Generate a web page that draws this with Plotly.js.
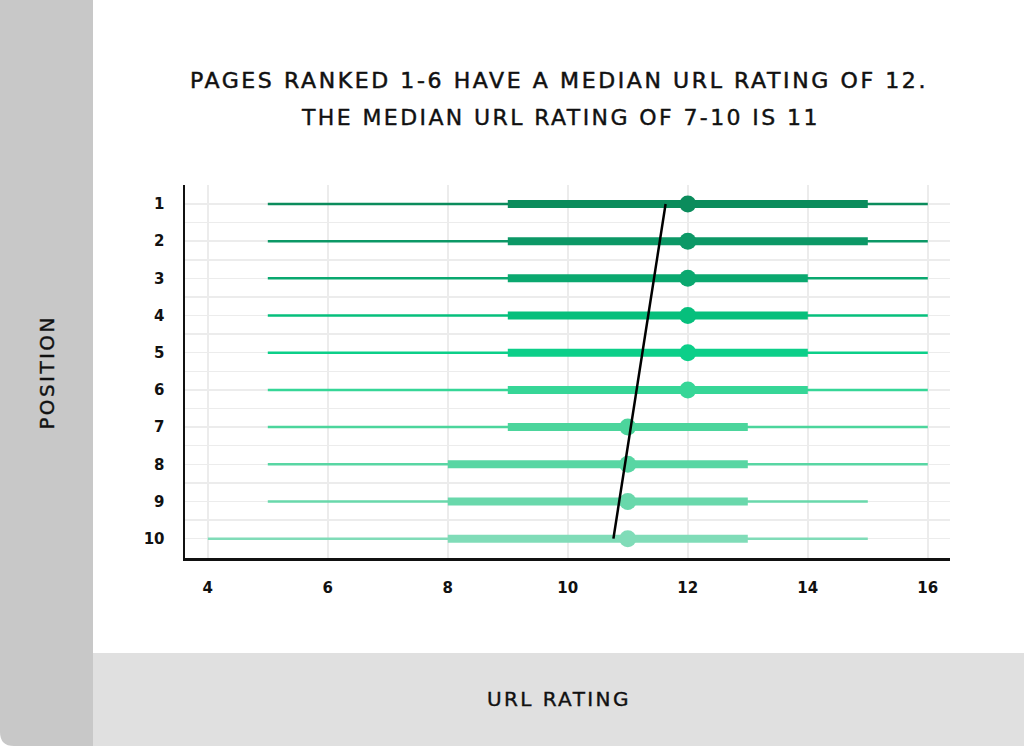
<!DOCTYPE html>
<html>
<head>
<meta charset="utf-8">
<script src="https://cdn.plot.ly/plotly-3.0.1.min.js"></script>
<style>
  body { margin: 0; background: #ffffff; }
  #chart { width: 1024px; height: 746px; }
  /* the source typeface is a wide, medium-weight geometric sans:
     space the headings out and thicken them a little */
  #chart .gtitle { letter-spacing: 2.6px; stroke: #111111; stroke-width: 0.5px; }
  #chart .annotation-text { letter-spacing: 2.4px; stroke: #111111; stroke-width: 0.4px; }
</style>
</head>
<body>
<div id="chart"></div>
<script>
// box summary per ranking position
var positions = [1, 2, 3, 4, 5, 6, 7, 8, 9, 10];
var minVals = [5, 5, 5, 5, 5, 5, 5, 5, 5, 4];
var q1Vals = [9, 9, 9, 9, 9, 9, 9, 8, 8, 8];
var medianVals = [12, 12, 12, 12, 12, 12, 11, 11, 11, 11];
var q3Vals = [15, 15, 14, 14, 14, 14, 13, 13, 13, 13];
var maxVals = [16, 16, 16, 16, 16, 16, 16, 16, 15, 15];

// trend line through the medians
var trendX = [11.63, 10.76];
var trendY = [1, 10];

var xTicks = [4, 6, 8, 10, 12, 14, 16];

var titleLines = ['PAGES RANKED 1-6 HAVE A MEDIAN URL RATING OF 12.',
                  'THE MEDIAN URL RATING OF 7-10 IS 11'];

var rowColors = ['#0b8c5c', '#0c9866', '#0aa86f', '#06bf7c', '#0ccf89',
                 '#36d697', '#4cd59c', '#58d6a3', '#69d8ab', '#80dcb8'];

var FONT = 'DejaVu Sans, sans-serif';

var traces = [];
positions.forEach(function (pos, i) {
    // whisker: min to max
    traces.push({
        x: [minVals[i], maxVals[i]],
        y: [pos, pos],
        mode: 'lines',
        type: 'scatter',
        line: { color: rowColors[i], width: 2.5 },
        hoverinfo: 'skip'
    });
    // box: q1 to q3
    traces.push({
        x: [q1Vals[i], q3Vals[i]],
        y: [pos, pos],
        mode: 'lines',
        type: 'scatter',
        line: { color: rowColors[i], width: 8 },
        hoverinfo: 'skip'
    });
});

// median dots
traces.push({
    x: medianVals,
    y: positions,
    mode: 'markers',
    type: 'scatter',
    marker: { color: rowColors, size: 17, line: { width: 0 } }
});

// trend line
traces.push({
    x: trendX,
    y: trendY,
    mode: 'lines',
    type: 'scatter',
    line: { color: '#000000', width: 2.5 }
});

// plot area: left 185, right 950, top 185, bottom 558 (px)
var W = 1024, H = 746, L = 185, R = 950, T = 185, B = 558;
function px(x) { return (x - L) / (R - L); }
function py(y) { return (B - y) / (B - T); }

var rad = 14;
var leftStrip = 'M ' + px(0) + ',' + py(0) +
    ' L ' + px(93) + ',' + py(0) +
    ' L ' + px(93) + ',' + py(H) +
    ' L ' + px(rad) + ',' + py(H) +
    ' Q ' + px(0) + ',' + py(H) + ' ' + px(0) + ',' + py(H - rad) + ' Z';

var titleFont = { family: FONT, size: 22, color: '#111111' };
var axisTitleFont = { family: FONT, size: 20, color: '#111111' };
var tickFont = { family: FONT, size: 15, color: '#111111', weight: 700 };

var layout = {
    width: W,
    height: H,
    margin: { l: L, r: W - R, t: T, b: H - B },
    paper_bgcolor: '#ffffff',
    plot_bgcolor: '#ffffff',
    showlegend: false,
    font: { family: FONT, color: '#111111' },
    title: {
        text: titleLines[0],
        font: titleFont,
        xref: 'container',
        yref: 'container',
        x: 559 / W,
        y: 1 - 80 / H,
        xanchor: 'center',
        yanchor: 'middle'
    },
    xaxis: {
        range: [3.62, 16.37],
        tickvals: xTicks,
        ticktext: xTicks.map(String),
        showgrid: true,
        gridcolor: '#ececec',
        gridwidth: 1.5,
        zeroline: false,
        showline: true,
        linecolor: '#111111',
        linewidth: 2.5,
        ticks: 'outside',
        ticklen: 14,
        tickcolor: 'rgba(0,0,0,0)',
        tickfont: tickFont,
        fixedrange: true
    },
    yaxis: {
        range: [10.52, 0.49],
        tickvals: positions,
        ticktext: positions.map(String),
        showgrid: true,
        gridcolor: '#ececec',
        gridwidth: 1.5,
        minor: { dtick: 0.5, showgrid: true, gridcolor: '#ececec', gridwidth: 1.5 },
        zeroline: false,
        showline: true,
        linecolor: '#111111',
        linewidth: 2.5,
        ticks: 'outside',
        ticklen: 15,
        tickcolor: 'rgba(0,0,0,0)',
        tickfont: tickFont,
        fixedrange: true
    },
    shapes: [
        { type: 'path', xref: 'paper', yref: 'paper', path: leftStrip,
          fillcolor: '#c8c8c8', line: { width: 0 }, layer: 'below' },
        { type: 'rect', xref: 'paper', yref: 'paper',
          x0: px(93), x1: px(W), y0: py(653), y1: py(H),
          fillcolor: '#e0e0e0', line: { width: 0 }, layer: 'below' }
    ],
    annotations: [
        { text: titleLines[1], xref: 'paper', yref: 'paper', x: px(560), y: py(117),
          xanchor: 'center', yanchor: 'middle', showarrow: false,
          font: titleFont },
        { text: 'POSITION', xref: 'paper', yref: 'paper', x: px(47), y: py(373),
          xanchor: 'center', yanchor: 'middle', showarrow: false, textangle: -90,
          font: axisTitleFont },
        { text: 'URL RATING', xref: 'paper', yref: 'paper', x: px(559), y: py(699),
          xanchor: 'center', yanchor: 'middle', showarrow: false,
          font: axisTitleFont }
    ]
};

Plotly.newPlot('chart', traces, layout, { staticPlot: true });
</script>
</body>
</html>
